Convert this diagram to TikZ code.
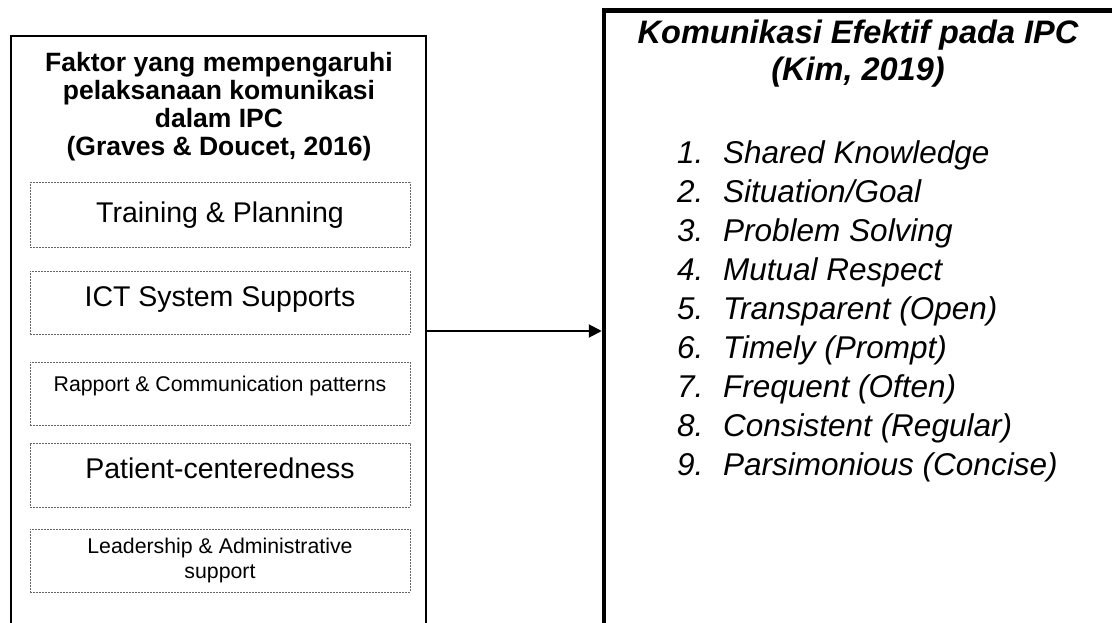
\documentclass[tikz,border=0pt]{standalone}
\usepackage{fontspec}
\setmainfont{Liberation Sans}
\usepackage{tikz}
\usetikzlibrary{arrows.meta, positioning}
\newcommand{\nomor}[1]{\makebox[46pt][l]{#1}}
\tikzset{
  outerbox/.style={rectangle, draw=black, line width=#1, anchor=north west, inner sep=0pt},
  faktorbox/.style={rectangle, draw=black!60, line width=1pt, dash pattern=on 2pt off 1pt,
                    minimum width=380pt, anchor=north west, align=center, inner sep=0pt},
  bigtext/.style={font=\fontsize{28.5}{32}\selectfont, text height=20.5pt, text depth=#1},
  smalltext/.style={font=\fontsize{21.3}{24.3}\selectfont},
  arr/.style={-{Triangle[length=13pt, width=13pt]}, line width=2pt},
}
\begin{document}
\begin{tikzpicture}[x=1pt, y=-1pt]
  \useasboundingbox (0,0) rectangle (1112,623);
  \clip (0,0) rectangle (1112,623);
  \node[outerbox=2pt, minimum width=415pt, minimum height=590pt] (faktor) at (10,35) {};
  \node[outerbox=4.5pt, minimum width=700pt, minimum height=641pt] (kim) at (601.75,8.25) {};
  \node[anchor=north, inner sep=0pt, align=center,
        font=\fontsize{26.5}{28}\selectfont\bfseries] (faktorjudul) at (219,52.5)
        {Faktor yang mempengaruhi\\pelaksanaan komunikasi\\dalam IPC\\(Graves \& Doucet, 2016)};
  \node[faktorbox, bigtext=5.7pt, minimum height=64pt] (training) at (29.5,182.5) {Training \& Planning};
  \node[faktorbox, bigtext=12.1pt, minimum height=63pt] (ict) at (29.5,270.5) {ICT System Supports};
  \node[faktorbox, smalltext, text height=15.3pt, text depth=18.9pt, minimum height=63pt] (rapport)
        at (29.5,361.5) {Rapport \& Communication patterns};
  \node[faktorbox, bigtext=14.5pt, minimum height=64pt] (patient) at (29.5,442.5) {Patient-centeredness};
  \node[faktorbox, smalltext, minimum height=63pt] (leadership) at (29.5,528.5)
        {Leadership \& Administrative\\support};
  \node[anchor=north, inner sep=0pt, align=center,
        font=\fontsize{32.5}{37}\selectfont\bfseries\itshape] (kimjudul) at (858,20)
        {Komunikasi Efektif pada IPC\\(Kim, 2019)};
  \node[anchor=north west, inner sep=0pt, align=left,
        font=\fontsize{31.5}{39}\selectfont\itshape] (kimdaftar) at (677,140)
        {\nomor{1.}Shared Knowledge\\
         \nomor{2.}Situation/Goal\\
         \nomor{3.}Problem Solving\\
         \nomor{4.}Mutual Respect\\
         \nomor{5.}Transparent (Open)\\
         \nomor{6.}Timely (Prompt)\\
         \nomor{7.}Frequent (Often)\\
         \nomor{8.}Consistent (Regular)\\
         \nomor{9.}Parsimonious (Concise)};
  \draw[arr] (faktor) -- (kim);
\end{tikzpicture}
\end{document}
